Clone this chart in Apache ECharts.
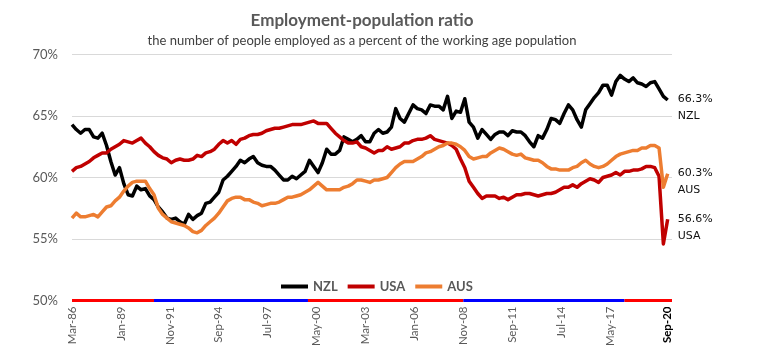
<!DOCTYPE html>
<html>
<head>
<meta charset="utf-8">
<script src="https://cdn.jsdelivr.net/npm/echarts@6/dist/echarts.min.js"></script>
<style>html,body{margin:0;padding:0;background:#fff}#c{width:760px;height:350px}</style>
</head>
<body>
<div id="c"></div>
<script>
// ---- data (quarterly, Mar-86 .. Sep-20) ----
const nzl = [64.3,63.9,63.6,63.9,63.9,63.3,63.2,63.6,62.6,61.3,60.2,60.8,59.5,58.6,58.5,59.3,59.0,59.1,58.5,58.2,
57.6,57.2,56.7,56.6,56.7,56.4,56.2,57.0,56.6,56.9,57.1,57.9,58.0,58.4,58.8,59.8,60.1,60.5,60.9,61.4,
61.2,61.5,61.7,61.2,61.0,60.9,60.9,60.6,60.2,59.8,59.8,60.1,59.9,60.2,60.5,61.4,60.9,60.4,61.2,62.3,
61.9,61.9,62.2,63.3,63.1,62.9,63.1,63.4,62.9,62.9,63.6,63.9,63.6,63.7,64.1,65.6,64.8,64.5,65.2,65.9,
65.6,65.5,65.2,65.9,65.8,65.8,65.5,66.6,64.8,65.4,65.3,66.4,64.5,64.1,63.2,63.9,63.5,63.1,63.5,63.7,
63.7,63.4,63.8,63.7,63.7,63.4,62.9,62.5,63.4,63.2,63.9,64.8,64.7,64.4,65.2,65.9,65.5,64.7,64.1,65.5,
66.0,66.5,66.9,67.5,67.5,66.7,67.8,68.3,68.0,67.8,68.1,67.7,67.6,67.4,67.7,67.8,67.2,66.6,66.3];
const usa = [60.5,60.8,60.9,61.1,61.3,61.6,61.8,62.0,62.0,62.3,62.5,62.7,63.0,62.9,62.8,63.0,63.2,62.8,62.5,62.1,
61.8,61.6,61.5,61.2,61.4,61.5,61.4,61.4,61.5,61.8,61.7,62.0,62.1,62.3,62.7,63.0,62.8,63.0,62.7,63.1,
63.2,63.4,63.5,63.5,63.6,63.8,63.9,64.0,64.0,64.1,64.2,64.3,64.3,64.3,64.4,64.5,64.6,64.4,64.4,64.4,
64.0,63.6,63.3,63.0,62.8,62.8,62.9,62.5,62.4,62.2,62.0,62.2,62.2,62.5,62.3,62.4,62.5,62.8,62.8,63.0,
63.1,63.1,63.2,63.4,63.1,63.0,62.9,62.8,62.6,62.3,61.5,60.8,59.7,59.2,58.7,58.3,58.5,58.5,58.5,58.3,
58.4,58.2,58.4,58.6,58.6,58.7,58.7,58.6,58.5,58.6,58.7,58.7,58.8,59.0,59.2,59.2,59.4,59.2,59.5,59.7,
59.9,59.8,59.6,60.0,60.1,60.2,60.4,60.2,60.5,60.5,60.6,60.6,60.7,60.9,60.9,60.8,60.1,54.6,56.6];
const aus = [56.7,57.1,56.8,56.8,56.9,57.0,56.8,57.2,57.6,57.7,58.1,58.4,58.9,59.3,59.6,59.7,59.7,59.7,59.1,58.6,
57.5,57.0,56.7,56.4,56.3,56.2,56.1,55.9,55.6,55.5,55.7,56.1,56.4,56.7,57.1,57.6,58.1,58.3,58.4,58.4,
58.2,58.2,58.0,57.9,57.7,57.8,57.9,57.9,58.0,58.2,58.4,58.4,58.5,58.6,58.8,59.0,59.3,59.6,59.3,59.0,
59.0,59.0,59.0,59.2,59.3,59.5,59.8,59.8,59.7,59.6,59.8,59.8,59.9,60.0,60.4,60.8,61.1,61.3,61.3,61.3,
61.5,61.7,62.0,62.1,62.3,62.5,62.6,62.8,62.8,62.7,62.5,62.2,61.7,61.5,61.6,61.7,61.7,62.0,62.2,62.4,
62.3,62.1,61.9,61.8,61.9,61.6,61.5,61.4,61.4,61.2,60.9,60.7,60.7,60.6,60.6,60.6,60.8,60.9,61.2,61.4,
61.1,60.9,60.8,60.9,61.1,61.4,61.7,61.9,62.0,62.1,62.2,62.2,62.4,62.4,62.6,62.6,62.4,59.2,60.3];
const seriesNames = ['NZL','USA','AUS'];
const tickLabels = ['Mar-86','Jan-89','Nov-91','Sep-94','Jul-97','May-00','Mar-03','Jan-06','Nov-08','Sep-11','Jul-14','May-17','Sep-20'];
const lastLabel = 'Sep-20';
const yTicks = [50,55,60,65,70];
// NZ government periods shown as a band along the axis
const govtStart = ['Mar-86','Dec-90','Nov-99','Nov-08','Mar-18'];
const govtEnd   = ['Dec-90','Nov-99','Nov-08','Mar-18','Dec-20'];
const govtParty = ['Labour','National','Labour','National','Labour'];
const titleText = 'Employment-population ratio';
const subtitleText = 'the number of people employed as a percent of the working age population';

// monthly categories Mar-86 .. Dec-20
const MON = ['Jan','Feb','Mar','Apr','May','Jun','Jul','Aug','Sep','Oct','Nov','Dec'];
const categories = [];
for (let i = 0; i < 418; i++) {
  const k = 2 + i;
  categories.push(MON[k % 12] + '-' + String((1986 + Math.floor(k / 12)) % 100).padStart(2, '0'));
}
const toPairs = arr => arr.map((v, i) => [categories[i * 3], v]);

const colors = {NZL:'#000000', USA:'#C00000', AUS:'#ED7D31'};
const partyColor = {Labour:'#FF0000', National:'#0000FF'};
const FONT = 'Lato';

const chart = echarts.init(document.getElementById('c'), null, {renderer:'canvas'});
const dataSets = [nzl, usa, aus];
const series = seriesNames.map((n, k) => ({
  name: n, type: 'line', data: toPairs(dataSets[k]), showSymbol: false, symbol: 'none',
  lineStyle: {width: 3.5, color: colors[n], join: 'round'}, itemStyle: {color: colors[n]},
  endLabel: {
    show: true, distance: 10, offset: [0, 8],
    formatter: p => p.value[1].toFixed(1) + '%\n' + p.seriesName,
    color: '#111', fontSize: 11, fontFamily: 'DejaVu Sans', lineHeight: 17
  },
  emphasis: {disabled: true}, animation: false
}));
govtStart.forEach((s, k) => {
  series.push({
    name: 'govt' + k, type: 'line', data: [[s, 50], [govtEnd[k], 50]], symbol: 'none',
    lineStyle: {width: 3, color: partyColor[govtParty[k]]}, clip: false, silent: true,
    animation: false, z: 5
  });
});

chart.setOption({
  animation: false,
  title: {
    text: titleText, subtext: subtitleText, left: 357, top: 7, textAlign: 'center', itemGap: 5,
    textStyle: {fontFamily: FONT, fontSize: 17, fontWeight: 'bold', color: '#595959'},
    subtextStyle: {fontFamily: FONT, fontSize: 13, color: '#404040'}
  },
  legend: {
    data: seriesNames, left: 276, top: 275, icon: 'rect', itemWidth: 27, itemHeight: 4, itemGap: 10,
    textStyle: {fontFamily: FONT, fontSize: 13, fontWeight: 'bold', color: '#595959'}
  },
  grid: {left: 72, right: 88, top: 54.5, bottom: 49.5},
  xAxis: {
    type: 'category', data: categories, boundaryGap: false,
    axisLine: {show: false}, axisTick: {show: false},
    axisLabel: {
      interval: (i, v) => tickLabels.includes(v), rotate: 90, margin: 6,
      fontFamily: FONT, fontSize: 11.5, color: '#595959',
      formatter: v => v === lastLabel ? '{b|' + v + '}' : v,
      rich: {b: {fontFamily: FONT, fontSize: 11.5, fontWeight: 'bold', color: '#000'}}
    },
    splitLine: {show: false}
  },
  yAxis: {
    type: 'value', min: yTicks[0], max: yTicks[yTicks.length - 1], interval: 5,
    axisLine: {show: false}, axisTick: {show: false},
    axisLabel: {formatter: v => v + '%', fontFamily: FONT, fontSize: 13, color: '#595959', margin: 14},
    splitLine: {lineStyle: {color: '#D9D9D9', width: 1}}
  },
  series: series
});
</script>
</body>
</html>
